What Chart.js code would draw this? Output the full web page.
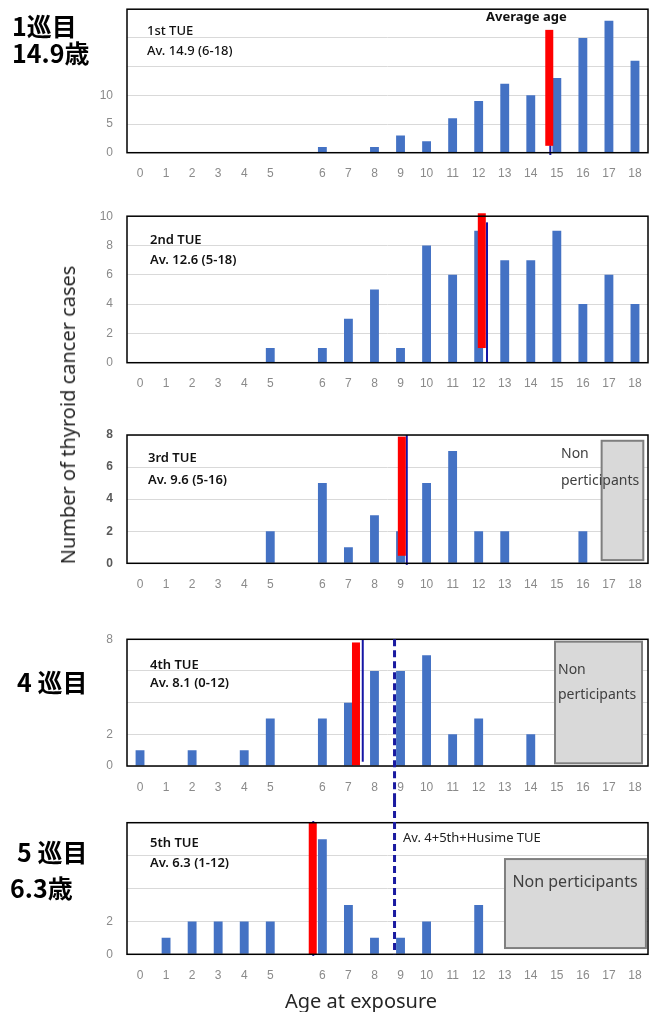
<!DOCTYPE html>
<html>
<head>
<meta charset="utf-8">
<script src="https://cdn.jsdelivr.net/npm/chart.js@4.4.0/dist/chart.umd.min.js"></script>
<style>
body{margin:0;background:#fff;width:650px;height:1012px;overflow:hidden;position:relative;font-family:"Noto Sans",sans-serif;}
canvas{position:absolute;left:0;}
.t{position:absolute;white-space:nowrap;line-height:1;}
.jp{font-family:"Noto Sans CJK JP";font-weight:700;font-size:25px;color:#000;}
.in{font-size:13px;font-weight:600;color:#111;}
.np{font-size:14px;color:#404040;}
</style>
</head>
<body>
<canvas id="c1" width="650" height="207" style="top:-12px"></canvas>
<canvas id="c2" width="650" height="215" style="top:195px"></canvas>
<canvas id="c3" width="650" height="202" style="top:410px"></canvas>
<canvas id="c4" width="650" height="188" style="top:612px"></canvas>
<canvas id="c5" width="650" height="212" style="top:800px"></canvas>

<!-- 좌측 일본어 라벨 -->
<div class="t jp" style="left:12px;top:13px">1巡目</div>
<div class="t jp" style="left:12px;top:40px">14.9歳</div>
<div class="t jp" style="left:17px;top:669px">4 巡目</div>
<div class="t jp" style="left:17px;top:839px">5 巡目</div>
<div class="t jp" style="left:10px;top:875px">6.3歳</div>

<!-- 패널 안 텍스트 -->
<div class="t in" style="left:147px;top:24px;font-weight:500">1st TUE</div>
<div class="t in" style="left:147px;top:44px;font-weight:500">Av. 14.9 (6-18)</div>
<div class="t in" style="left:486px;top:10px;font-weight:700">Average age</div>
<div class="t in" style="left:150px;top:233px">2nd TUE</div>
<div class="t in" style="left:150px;top:253px">Av. 12.6 (5-18)</div>
<div class="t in" style="left:148px;top:451px">3rd TUE</div>
<div class="t in" style="left:148px;top:473px">Av. 9.6 (5-16)</div>
<div class="t in" style="left:150px;top:658px">4th TUE</div>
<div class="t in" style="left:150px;top:676px">Av. 8.1 (0-12)</div>
<div class="t in" style="left:150px;top:836px">5th TUE</div>
<div class="t in" style="left:150px;top:856px">Av. 6.3 (1-12)</div>

<div class="t np" style="left:561px;top:446px">Non</div>
<div class="t np" style="left:561px;top:473px">perticipants</div>
<div class="t np" style="left:558px;top:662px">Non</div>
<div class="t np" style="left:558px;top:687px">perticipants</div>
<div class="t np" style="left:575px;top:882px;font-size:16px;transform:translate(-50%,-55%)">Non perticipants</div>
<div class="t np" style="left:403px;top:831px;font-size:13px;color:#222">Av. 4+5th+Husime TUE</div>

<!-- 축 제목 -->
<div class="t" style="left:68px;top:415px;font-size:20px;color:#262626;transform:translate(-50%,-50%) rotate(-90deg)">Number of thyroid cancer cases</div>
<div class="t" style="left:361px;top:1001px;font-size:20px;color:#262626;transform:translate(-50%,-50%)">Age at exposure</div>

<script>
// 나이 카테고리 (5와 6 사이 빈칸 하나)
var ageLabels = ['0','1','2','3','4','5','','6','7','8','9','10','11','12','13','14','15','16','17','18'];

// 회차별 갑상선암 건수
var tue1 = [0,0,0,0,0,0,null,1,0,1,3,2,6,9,12,10,13,20,23,16];
var tue2 = [0,0,0,0,0,1,null,1,3,5,1,8,6,9,7,7,9,4,6,4];
var tue3 = [0,0,0,0,0,2,null,5,1,3,2,5,7,2,2,0,0,2,0,0];
var tue4 = [1,0,1,0,1,3,null,3,4,6,6,7,2,3,0,2,0,0,0,0];
var tue5 = [0,1,2,2,2,2,null,7,3,1,1,2,0,3,0,0,0,0,0,0];

// y축 최대값 / 간격 / 보이는 눈금
var yMax = [25, 10, 8, 8, 8];
var yStep = [5, 2, 2, 2, 2];
var yShown = [[0,5,10],[0,2,4,6,8,10],[0,2,4,6,8],[0,2,8],[0,2]];

// 평균연령 표시 (카테고리 인덱스 위치, 값 범위)
var redPos  = [15.71, 13.12, 10.05, 8.29, 6.63];
var redFrom = [1.2, 1.0, 0.47, 0.04, 0];
var redTo   = [21.4, 10.2, 7.9, 7.8, 8.0];
var bluePos  = [15.75, 13.32, 10.24, 8.55, 6.65];
var blueFrom = [-0.4, 0, -0.1, 0.27, -0.1];
var blueTo   = [1.3, 9.58, 8.0, 7.96, 8.1];
var dashPos = 9.77; // 4+5th+Husime 평균 (4,5 패널)

// 비참가 구간 (인덱스 from/to, 값 from/to)
var nonPart = [null, null, [17.72, 19.32, 0.2, 7.64], [15.93, 19.27, 0.17, 7.85], [14.01, 19.42, 0.38, 5.79]];

var barColor = '#4472c4';

var marksPlugin = {
	id: 'marks',
	afterDatasetsDraw: function(chart, args, o) {
		var ctx = chart.ctx, x = chart.scales.x, y = chart.scales.y;
		ctx.save();
		if (o.box) { //회색 박스
			var l = x.getPixelForValue(o.box[0]), r = x.getPixelForValue(o.box[1]);
			var b = y.getPixelForValue(o.box[2]), t = y.getPixelForValue(o.box[3]);
			ctx.fillStyle = '#d9d9d9';
			ctx.fillRect(l, t, r - l, b - t);
			ctx.strokeStyle = '#7f7f7f';
			ctx.lineWidth = 2;
			ctx.strokeRect(l, t, r - l, b - t);
		}
		// 파란 선
		var bx = x.getPixelForValue(o.blue[0]);
		ctx.strokeStyle = '#1515a5';
		ctx.lineWidth = 2;
		ctx.beginPath();
		ctx.moveTo(bx, y.getPixelForValue(o.blue[1]));
		ctx.lineTo(bx, y.getPixelForValue(o.blue[2]));
		ctx.stroke();
		// 빨간 막대
		var rx = x.getPixelForValue(o.red[0]);
		var ry1 = y.getPixelForValue(o.red[1]), ry2 = y.getPixelForValue(o.red[2]);
		ctx.fillStyle = '#ff0000';
		ctx.fillRect(rx - 4, ry2, 8, ry1 - ry2);
		ctx.restore();
	},
	afterDraw: function(chart, args, o) {
		var ctx = chart.ctx, a = chart.chartArea, x = chart.scales.x, y = chart.scales.y;
		ctx.save();
		ctx.strokeStyle = '#000';
		ctx.lineWidth = 1.5;
		ctx.strokeRect(a.left, a.top, a.right - a.left, a.bottom - a.top);
		if (o.dash) { //점선
			var dx = x.getPixelForValue(dashPos);
			var top = o.dash === 'down' ? y.getPixelForValue(yMax[3]) : 0;
			var bot = o.dash === 'down' ? chart.height : y.getPixelForValue(0);
			ctx.strokeStyle = '#1a1aa0';
			ctx.lineWidth = 3;
			ctx.setLineDash([7, 4]);
			ctx.beginPath();
			ctx.moveTo(dx, top);
			ctx.lineTo(dx, bot);
			ctx.stroke();
		}
		ctx.restore();
	}
};

// 패널 위치: 캔버스 top/bottom, 박스 top, x축 y
var panelPos = [[-12, 195, 3, 152.7], [195, 410, 214.3, 362.7], [410, 612, 435, 563.3], [612, 800, 639.3, 766], [800, 1012, 822.7, 954.3]];
var allData = [tue1, tue2, tue3, tue4, tue5];
var dashMode = [null, null, null, 'down', 'up'];

function makePanel(i) {
	var p = panelPos[i];
	var xH = 30;
	new Chart(document.getElementById('c' + (i + 1)), {
		type: 'bar',
		data: {
			labels: ageLabels,
			datasets: [{
				data: allData[i],
				backgroundColor: barColor,
				borderWidth: 0,
				barPercentage: 0.34,
				categoryPercentage: 1
			}]
		},
		options: {
			responsive: false,
			animation: false,
			layout: { padding: { left: 100, right: 2, top: p[2] - p[0], bottom: p[1] - p[3] - xH } },
			plugins: {
				legend: { display: false },
				tooltip: { enabled: false },
				marks: {
					red: [redPos[i], redFrom[i], redTo[i]],
					blue: [bluePos[i], blueFrom[i], blueTo[i]],
					box: nonPart[i],
					dash: dashMode[i]
				}
			},
			scales: {
				x: {
					grid: { display: false, drawTicks: false },
					border: { display: false },
					ticks: { color: '#8a8a8a', font: { size: 12 }, padding: 14, maxRotation: 0, autoSkip: false },
					afterFit: function(s) { s.height = xH; s.paddingLeft = 0; s.paddingRight = 0; }
				},
				y: {
					min: 0,
					max: yMax[i],
					grid: { color: '#d9d9d9', drawTicks: false },
					border: { display: false },
					ticks: {
						stepSize: yStep[i],
						color: i === 2 ? '#595959' : '#8a8a8a',
						font: { size: 12, weight: i === 2 ? 'bold' : 'normal' },
						padding: 14,
						callback: function(v) { return yShown[i].indexOf(v) >= 0 ? v : ''; }
					},
					afterFit: function(s) { s.width = 27; }
				}
			}
		},
		plugins: [marksPlugin]
	});
}

for (var i = 0; i < 5; i++) makePanel(i);
</script>
</body>
</html>
